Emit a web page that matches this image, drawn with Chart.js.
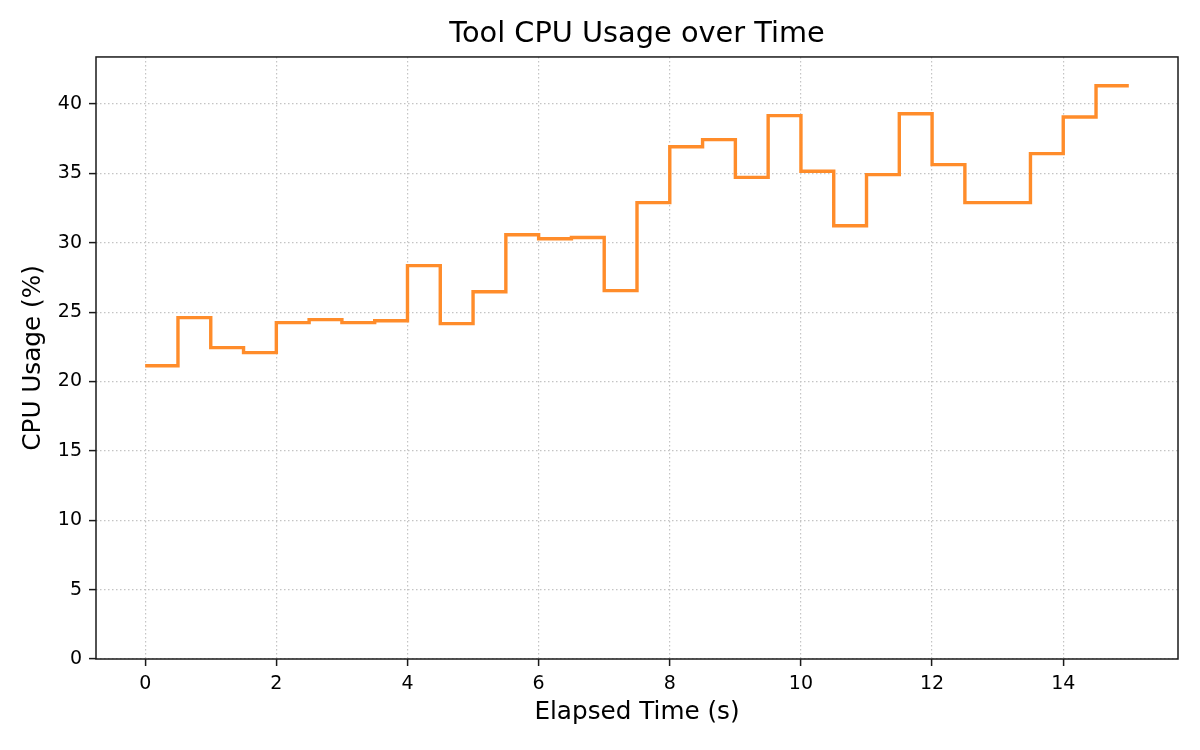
<!DOCTYPE html>
<html>
<head>
<meta charset="utf-8">
<script src="https://cdn.jsdelivr.net/npm/chart.js@4.4.1/dist/chart.umd.min.js"></script>
<style>
  html, body { margin: 0; padding: 0; background: #fff; }
</style>
</head>
<body>
<canvas id="myChart" width="1200" height="750"></canvas>
<script>
"use strict";

// data
const elapsed = [0, 0.5, 1, 1.5, 2, 2.5, 3, 3.5, 4, 4.5, 5, 5.5, 6, 6.5, 7, 7.5,
  8, 8.5, 9, 9.5, 10, 10.5, 11, 11.5, 12, 12.5, 13, 13.5, 14, 14.5, 15]
const cpuUsage = [21.14, 24.6, 22.44, 22.08, 24.24, 24.46, 24.24, 24.38, 28.35, 24.17,
  26.47, 30.58, 30.29, 30.38, 26.55, 32.89, 36.92, 37.43, 34.71, 39.16,
  35.15, 31.23, 34.91, 39.30, 35.63, 32.89, 32.89, 36.42, 39.06, 41.32, 41.32]
const xTicks = [0, 2, 4, 6, 8, 10, 12, 14]
const yTicks = [0, 5, 10, 15, 20, 25, 30, 35, 40]

const font = "'DejaVu Sans', sans-serif"
const axisColor = '#1a1a1a'

// full box around the plot area, like matplotlib spines
const frame = {
  id: 'frame',
  afterDraw(chart) {
    const {ctx, chartArea: a} = chart
    ctx.save()
    ctx.strokeStyle = axisColor
    ctx.lineWidth = 1.5
    ctx.strokeRect(a.left, a.top, a.right - a.left, a.bottom - a.top)
    ctx.restore()
  }
}

const gridOpts = {
  color: '#c4c4c4',
  lineWidth: 1.2,
  tickColor: axisColor,
  tickWidth: 1.5,
  tickLength: 7
}

const config = {
  type: 'line',
  data: {
    datasets: [{
      label: 'CPU',
      data: elapsed.map((t, i) => ({x: t, y: cpuUsage[i]})),
      borderColor: '#ff8c2a',
      borderWidth: 3.4,
      stepped: 'before',
      pointRadius: 0,
      fill: false,
      borderJoinStyle: 'miter'
    }]
  },
  options: {
    responsive: false,
    devicePixelRatio: 1,
    animation: false,
    layout: { padding: {left: 0, right: 22, top: 0, bottom: 0} },
    scales: {
      x: {
        type: 'linear',
        min: -0.75,
        max: 15.75,
        afterBuildTicks: s => { s.ticks = xTicks.map(v => ({value: v})) },
        afterFit: s => { s.height = 91 },
        grid: gridOpts,
        border: { display: false, dash: [1.5, 2.5] },
        ticks: { color: '#000', font: {family: font, size: 19}, padding: 7, maxRotation: 0 },
        title: {
          display: true, text: 'Elapsed Time (s)', color: '#000',
          font: {family: font, size: 24.7}, padding: {top: 0, bottom: 22.2}
        }
      },
      y: {
        min: 0,
        max: 43.39,
        afterBuildTicks: s => { s.ticks = yTicks.map(v => ({value: v})) },
        afterFit: s => { s.width = 96 },
        grid: gridOpts,
        border: { display: false, dash: [1.5, 2.5] },
        ticks: { color: '#000', font: {family: font, size: 19}, padding: 7 },
        title: {
          display: true, text: 'CPU Usage (%)', color: '#000',
          font: {family: font, size: 24.7}, padding: {top: 19.2, bottom: 0}
        }
      }
    },
    plugins: {
      legend: { display: false },
      tooltip: { enabled: false },
      title: {
        display: true,
        fullSize: false,
        text: 'Tool CPU Usage over Time',
        color: '#000',
        font: {family: font, size: 28.8, weight: 'normal'},
        padding: {top: 17.7, bottom: 4.7}
      }
    }
  },
  plugins: [frame]
}

const my_chart = new Chart(document.getElementById('myChart'), config)
</script>
</body>
</html>
